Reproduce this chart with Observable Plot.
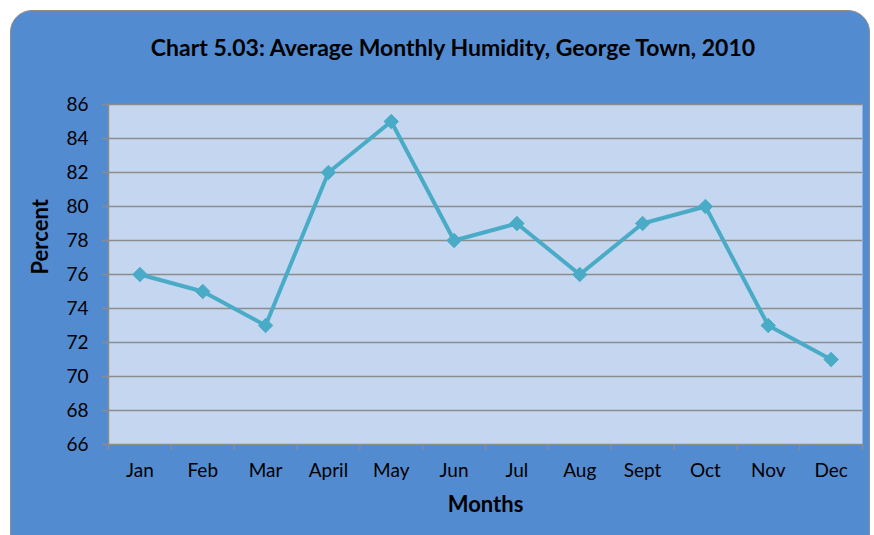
<!DOCTYPE html>
<html>
<head>
<meta charset="utf-8">
<script src="https://cdn.jsdelivr.net/npm/d3@7"></script>
<script src="https://cdn.jsdelivr.net/npm/@observablehq/plot@0.6"></script>
<style>
  html, body { margin: 0; padding: 0; background: #ffffff; overflow: hidden; }
  #wrap { position: relative; width: 874px; height: 535px; overflow: hidden; font-family: Lato, "Open Sans", sans-serif; }
  #box { position: absolute; left: 10px; top: 10px; width: 860px; height: 560px; background: #538bd1; border: 1.5px solid #8e8e8e; border-radius: 22px; box-sizing: border-box; }
  #title { position: absolute; left: 0; width: 906px; top: 32px; text-align: center; font-weight: bold; font-size: 23px; line-height: 30px; color: #000; }
  #chart { position: absolute; left: 0; top: 0; }
</style>
</head>
<body>
<div id="wrap">
  <div id="box"></div>
  <div id="title">Chart 5.03: Average Monthly Humidity, George Town, 2010</div>
  <div id="chart"></div>
</div>
<script>
const months = ["Jan", "Feb", "Mar", "April", "May", "Jun", "Jul", "Aug", "Sept", "Oct", "Nov", "Dec"];
const humidity = [76, 75, 73, 82, 85, 78, 79, 76, 79, 80, 73, 71];
const yTicks = [66, 68, 70, 72, 74, 76, 78, 80, 82, 84, 86];

const data = months.map((m, i) => ({month: m, idx: i + 1, value: humidity[i]}));
const boundaries = d3.range(0, months.length + 1).map(i => i + 0.5);

const lineColor = "#4aabc6";
const gridColor = "#8c8c8c";

const plot = Plot.plot({
  width: 874,
  height: 535,
  marginLeft: 108,
  marginRight: 12,
  marginTop: 104,
  marginBottom: 91,
  style: {background: "transparent", fontFamily: "Lato, 'Open Sans', sans-serif", fontSize: "19px", color: "#000", overflow: "visible"},
  x: {type: "linear", domain: [0.5, months.length + 0.5]},
  y: {domain: [66, 86]},
  marks: [
    Plot.frame({fill: "#c5d7f0", stroke: null}),
    Plot.ruleY(yTicks, {stroke: gridColor, strokeWidth: 1.5}),
    Plot.ruleX([0.5], {stroke: gridColor, strokeWidth: 1.5}),
    Plot.axisY({ticks: yTicks, tickSize: 6, tickPadding: 14, stroke: gridColor, strokeWidth: 1.5, fontSize: 19, label: null}),
    Plot.axisX({ticks: boundaries, tickSize: 6, stroke: gridColor, strokeWidth: 1.5, tickFormat: () => "", label: null}),
    Plot.axisX({ticks: d3.range(1, months.length + 1), tickSize: 0, tickPadding: 19, fontSize: 19, tickFormat: d => months[d - 1], label: null}),
    Plot.text(["Percent"], {frameAnchor: "left", dx: -68, rotate: -90, fontSize: 22, fontWeight: "bold"}),
    Plot.text(["Months"], {frameAnchor: "bottom", dy: 67, fontSize: 22, fontWeight: "bold"}),
    Plot.line(data, {x: "idx", y: "value", stroke: lineColor, strokeWidth: 4}),
    Plot.dot(data, {x: "idx", y: "value", symbol: "diamond2", r: 6.5, fill: lineColor, stroke: lineColor, strokeWidth: 1})
  ]
});
document.getElementById("chart").appendChild(plot);
</script>
</body>
</html>
